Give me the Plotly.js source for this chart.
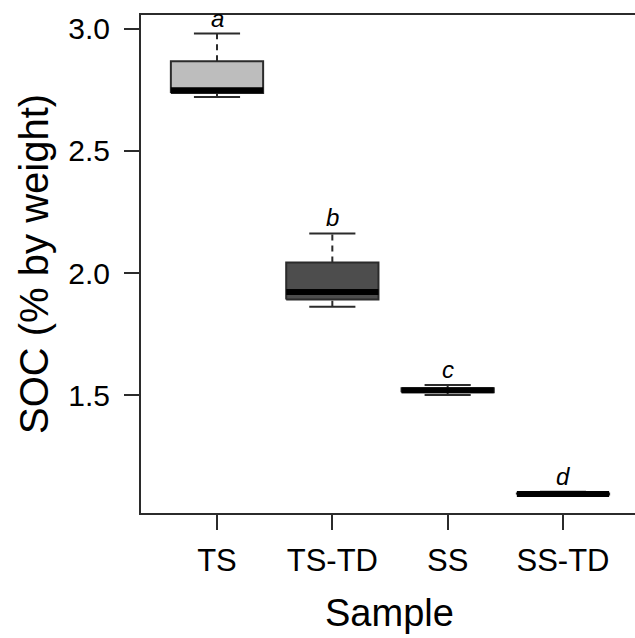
<!DOCTYPE html>
<html>
<head>
<meta charset="utf-8">
<script src="https://cdn.plot.ly/plotly-3.0.1.min.js"></script>
<style>html,body{margin:0;padding:0;background:#fff;}#chart{width:635px;height:638px;}</style>
</head>
<body>
<div id="chart"></div>
<script>
// Data
var categories = ['TS', 'TS-TD', 'SS', 'SS-TD'];
var minVals    = [2.721, 1.862, 1.500, 1.093];
var q1Vals     = [2.737, 1.892, 1.512, 1.093];
var medianVals = [2.749, 1.922, 1.520, 1.095];
var q3Vals     = [2.868, 2.043, 1.528, 1.097];
var maxVals    = [2.981, 2.162, 1.541, 1.104];
var groupLetters = ['a', 'b', 'c', 'd'];
var fillColors = ['#bdbdbd', '#4d4d4d', '#bdbdbd', '#4d4d4d'];
var yTickVals = [1.5, 2.0, 2.5, 3.0];
var yTickText = ['1.5', '2.0', '2.5', '3.0'];

var boxHalf = 0.4, capHalf = 0.2;
var lineCol = '#2b2b2b';
var fontFam = 'Liberation Sans, Arial, sans-serif';
var traces = [];
var annotations = [];

for (var i = 0; i < categories.length; i++) {
  var c = i + 1;
  // dashed whiskers
  traces.push({
    type: 'scatter', mode: 'lines', hoverinfo: 'skip', showlegend: false,
    x: [c, c, null, c, c],
    y: [q3Vals[i], maxVals[i], null, minVals[i], q1Vals[i]],
    line: {color: lineCol, width: 2, dash: '6px,5px'}
  });
  // caps
  traces.push({
    type: 'scatter', mode: 'lines', hoverinfo: 'skip', showlegend: false,
    x: [c - capHalf, c + capHalf, null, c - capHalf, c + capHalf],
    y: [maxVals[i], maxVals[i], null, minVals[i], minVals[i]],
    line: {color: lineCol, width: 2}
  });
  // box
  traces.push({
    type: 'scatter', mode: 'lines', hoverinfo: 'skip', showlegend: false,
    x: [c - boxHalf, c + boxHalf, c + boxHalf, c - boxHalf, c - boxHalf],
    y: [q1Vals[i], q1Vals[i], q3Vals[i], q3Vals[i], q1Vals[i]],
    fill: 'toself', fillcolor: fillColors[i],
    line: {color: lineCol, width: 2}
  });
  // median
  traces.push({
    type: 'scatter', mode: 'lines', hoverinfo: 'skip', showlegend: false,
    x: [c - boxHalf, c + boxHalf],
    y: [medianVals[i], medianVals[i]],
    line: {color: '#000', width: 6}
  });
  annotations.push({
    x: c, y: maxVals[i], xref: 'x', yref: 'y', text: groupLetters[i],
    showarrow: false, yanchor: 'bottom', yshift: 0,
    font: {family: fontFam, size: 24, color: '#000', style: 'italic'}
  });
}

annotations.push({
  x: 2.5, xref: 'x', y: 0, yref: 'paper', text: 'Sample', showarrow: false,
  yanchor: 'top', yshift: -77,
  font: {family: fontFam, size: 38, color: '#000'}
});
annotations.push({
  x: 0, xref: 'paper', y: 0.5, yref: 'paper', text: 'SOC (% by weight)', showarrow: false,
  textangle: -90, xanchor: 'center', xshift: -107,
  font: {family: fontFam, size: 40, color: '#000'}
});

var pxPerUnitX = 115.33;
var left = 141;
var xr0 = 1 - (217 - left) / pxPerUnitX;
var xr1 = xr0 + (635 - left) / pxPerUnitX;

var layout = {
  width: 635, height: 638,
  margin: {l: left, r: 0, t: 15, b: 125},
  paper_bgcolor: '#fff', plot_bgcolor: '#fff',
  showlegend: false,
  font: {family: fontFam, color: '#000'},
  xaxis: {
    range: [xr0, xr1], tickvals: [1, 2, 3, 4], ticktext: categories,
    showgrid: false, zeroline: false,
    showline: true, mirror: true, linecolor: lineCol, linewidth: 2,
    ticks: 'outside', ticklen: 15, tickwidth: 2, tickcolor: lineCol,
    ticklabelstandoff: 4,
    tickfont: {size: 31, color: '#000'}
  },
  yaxis: {
    range: [1.017, 3.057], tickvals: yTickVals, ticktext: yTickText,
    showgrid: false, zeroline: false,
    showline: true, linecolor: lineCol, linewidth: 2,
    ticks: 'outside', ticklen: 15, tickwidth: 2, tickcolor: lineCol,
    ticklabelstandoff: 8,
    tickfont: {size: 30, color: '#000'}
  },
  annotations: annotations
};

Plotly.newPlot('chart', traces, layout, {displayModeBar: false, staticPlot: true});
</script>
</body>
</html>
